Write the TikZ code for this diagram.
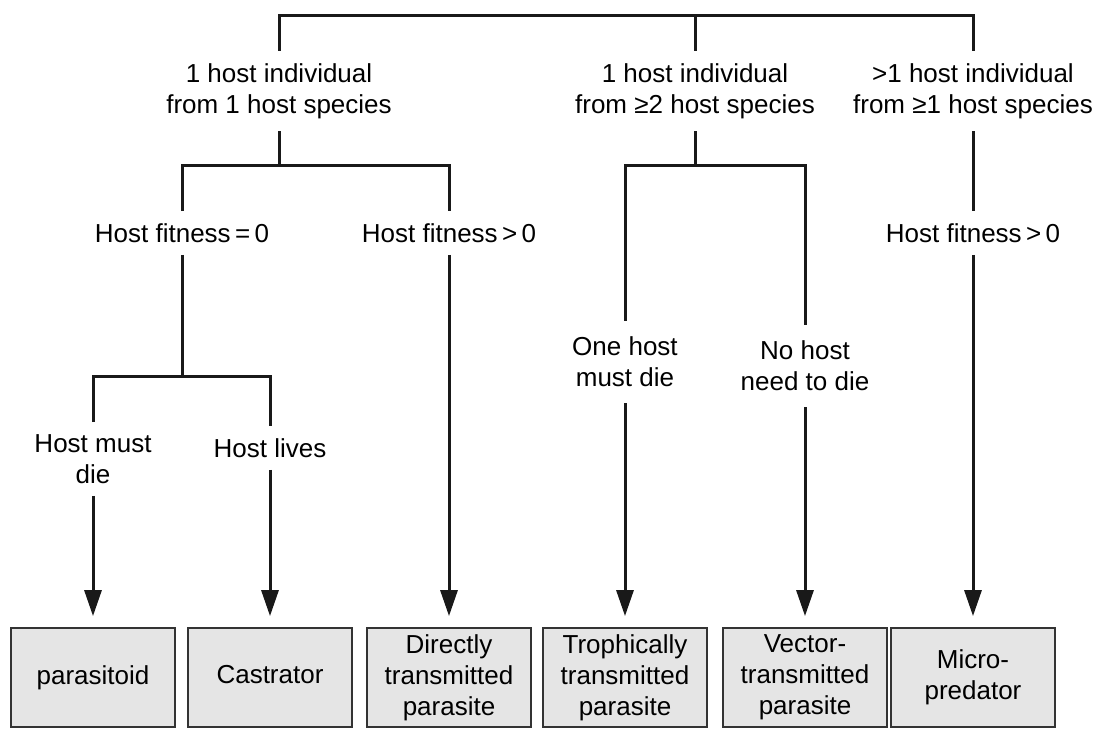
\documentclass[tikz,border=0pt]{standalone}
\usepackage{fontspec}
\setmainfont{Liberation Sans}
\usetikzlibrary{arrows.meta}
\begin{document}
\begin{tikzpicture}[x=0.5pt,y=-0.5pt,
  cond/.style={align=center, inner xsep=0pt, inner ysep=6pt, font=\fontsize{13}{15.5}\selectfont},
  leaf/.style={draw=black!80, line width=0.9pt, fill=black!10, minimum width=82pt, minimum height=49.5pt, inner sep=0pt, align=center, font=\fontsize{13}{15.5}\selectfont},
  branch/.style={line width=1.5pt, color=black!90},
  pick/.style={line width=1.5pt, color=black!90, shorten >=5.5pt, -{Triangle[length=13pt,width=8.5pt]}}]
\useasboundingbox (0,0) rectangle (1100,729);
\node[cond] (one) at (279,91) {1 host individual\\from 1 host species};
\node[cond] (two) at (695,91) {1 host individual\\from ≥2 host species};
\node[cond] (many) at (973,91) {>1 host individual\\from ≥1 host species};
\node[cond] (zero) at (182,233) {Host fitness\,=\,0};
\node[cond] (pos) at (449,233) {Host fitness\,>\,0};
\node[cond] (mpos) at (973,233) {Host fitness\,>\,0};
\node[cond] (must) at (93,459) {Host must\\die};
\node[cond] (lives) at (270,448) {Host lives};
\node[cond, inner ysep=8pt] (onedie) at (625,362) {One host\\must die};
\node[cond, inner ysep=8pt] (nodie) at (805,366) {No host\\need to die};
\node[leaf] (paras) at (93,677.5) {parasitoid\vphantom{C}};
\node[leaf] (castr) at (270,677.5) {Castrator\vphantom{p}};
\node[leaf] (direct) at (449,677.5) {Directly\\transmitted\\parasite};
\node[leaf] (troph) at (625,677.5) {Trophically\\transmitted\\parasite};
\node[leaf] (vector) at (805,677.5) {Vector-\\transmitted\\parasite};
\node[leaf] (micro) at (973,677.5) {Micro-\\predator};
\coordinate (top) at (695,15);
\coordinate (split) at (279,165);
\coordinate (msplit) at (695,165);
\coordinate (fsplit) at (182,376);
\draw[branch] (one.north) |- (top) -| (many.north);
\draw[branch] (two.north) -- (top);
\draw[branch] (one.south) -- (split);
\draw[branch] (zero.north) |- (split) -| (pos.north);
\draw[branch] (two.south) -- (msplit);
\draw[branch] (onedie.north) |- (msplit) -| (nodie.north);
\draw[branch] (many.south) -- (mpos.north);
\draw[branch] (zero.south) -- (fsplit);
\draw[branch] (must.north) |- (fsplit) -| (lives.north);
\draw[pick] (must.south) -- (paras.north);
\draw[pick] (lives.south) -- (castr.north);
\draw[pick] (pos.south) -- (direct.north);
\draw[pick] (onedie.south) -- (troph.north);
\draw[pick] (nodie.south) -- (vector.north);
\draw[pick] (mpos.south) -- (micro.north);
\end{tikzpicture}
\end{document}
